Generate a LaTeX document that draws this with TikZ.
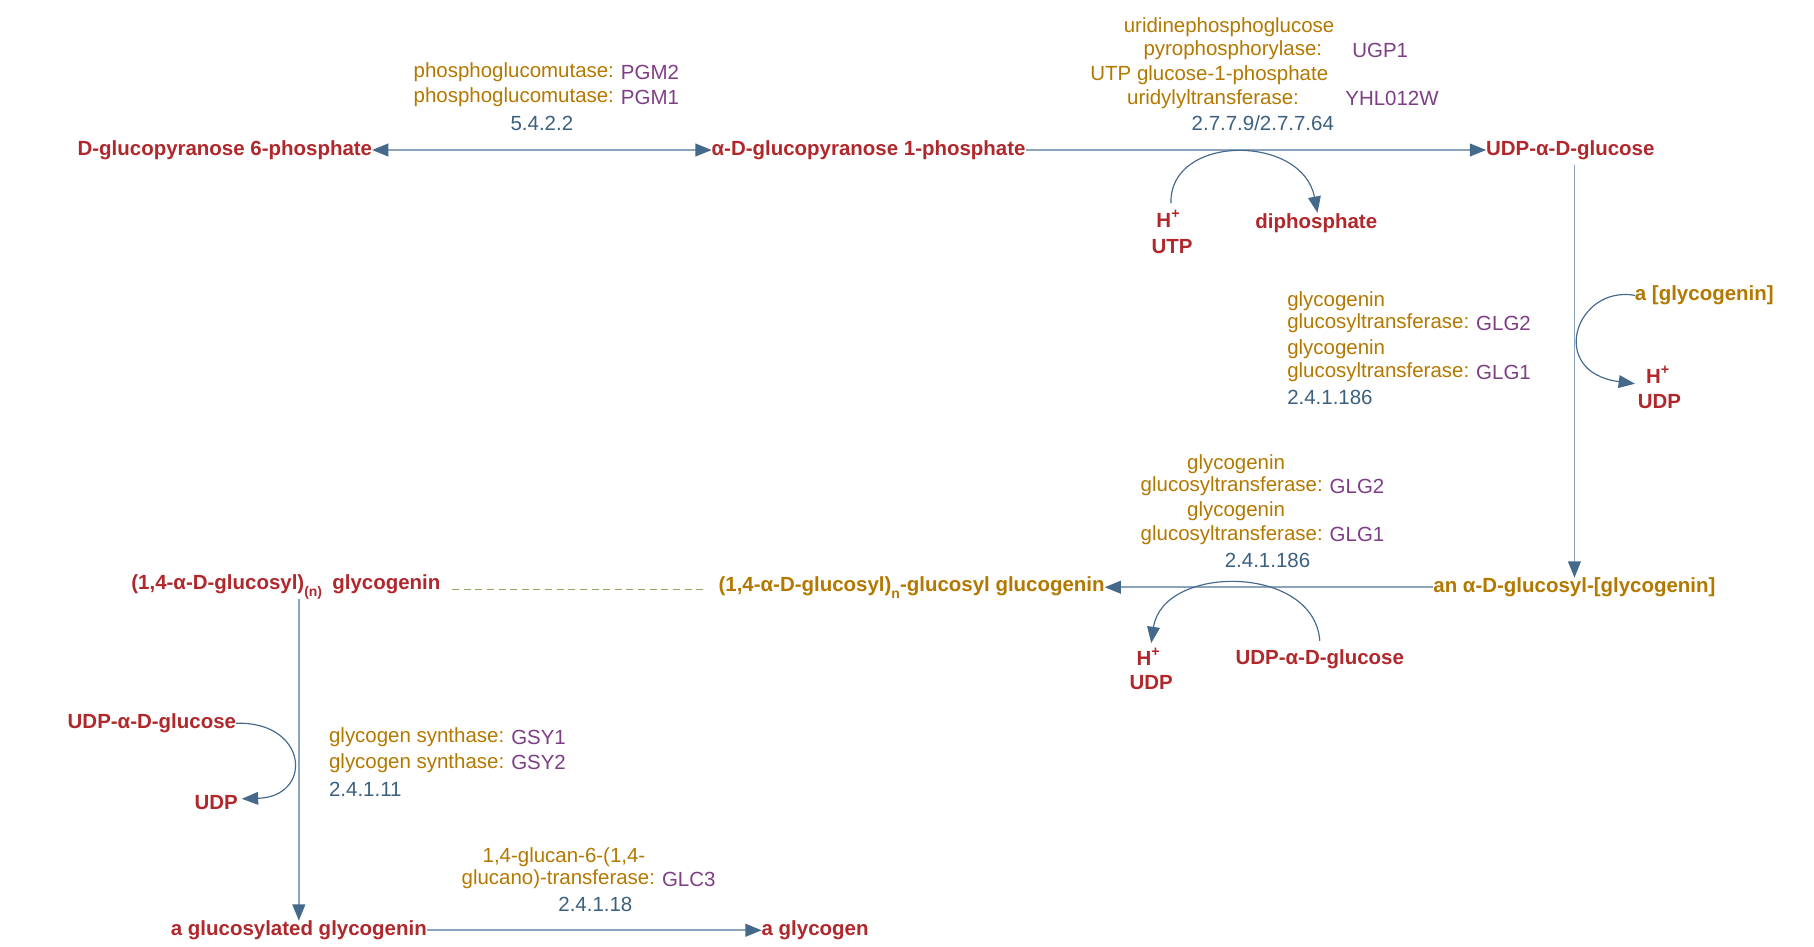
\documentclass[tikz,border=0pt]{standalone}
\usepackage{fontspec}
\setmainfont{Liberation Sans}
\usetikzlibrary{arrows.meta}
\definecolor{met}{HTML}{B0282C}
\definecolor{enz}{HTML}{B37800}
\definecolor{gene}{HTML}{7E3E85}
\definecolor{ec}{HTML}{3B6080}
\definecolor{arr}{HTML}{45698A}
\definecolor{ln}{HTML}{8CA5BD}
\definecolor{dashcol}{HTML}{8FA860}
\newcommand{\subx}[1]{\raisebox{-3pt}{\fontsize{6}{7}\selectfont #1}}
\begin{document}
\begin{tikzpicture}[x=0.5pt,y=-0.5pt,
  every node/.style={inner sep=0pt,outer sep=0pt,font=\fontsize{8.8}{10}\selectfont},
  met/.style={text=met,font=\fontsize{8.8}{10}\selectfont\bfseries},
  omet/.style={text=enz,font=\fontsize{8.8}{10}\selectfont\bfseries},
  enz/.style={text=enz},
  gene/.style={text=gene},
  ec/.style={text=ec},
  tp/.tip={Triangle[length=7pt,width=5.5pt,color=arr]},
  main/.style={draw=ln,line width=0.7pt,-tp},
  side/.style={draw=arr,line width=0.5pt,-tp}]
\useasboundingbox (0,0) rectangle (1560,813.6);
% row 1
\node[met,anchor=east] (g6p) at (320,129) {D-glucopyranose 6-phosphate};
\node[met,anchor=west] (g1p) at (612,129) {α-D-glucopyranose 1-phosphate};
\node[met,anchor=west] (udpg) at (1278,129) {UDP-α-D-glucose};
\draw[main,tp-tp] (g6p.east) -- (g1p.west);
\draw[main] (g1p.east) -- (udpg.west);
\node[enz,anchor=east] (p2) at (528,62) {phosphoglucomutase:};
\node[gene,anchor=west] (p2g) at ([xshift=3pt]p2.east) {PGM2};
\node[enz,anchor=east] (p1) at (528,84) {phosphoglucomutase:};
\node[gene,anchor=west] (p1g) at ([xshift=3pt]p1.east) {PGM1};
\node[ec] (ec1) at (466,106) {5.4.2.2};
\node[enz] (u1) at (1057,23) {uridinephosphoglucose};
\node[enz,anchor=east] (u2) at (1137,43) {pyrophosphorylase:};
\node[gene,anchor=west] (u2g) at (1163,43) {UGP1};
\node[enz] (u3) at (1040,65) {UTP glucose-1-phosphate};
\node[enz,anchor=east] (u4) at (1117,85) {uridylyltransferase:};
\node[gene,anchor=west] (u4g) at (1157,85) {YHL012W};
\node[ec] (ec2) at (1086,106) {2.7.7.9/2.7.7.64};
\node[met] (hp1) at (1005,188) {H\textsuperscript{+}};
\node[met] (utp) at (1008,212) {UTP};
\node[met] (dip) at (1132,192) {diphosphate};
\coordinate (a1s) at (1007,175);
\coordinate (a1e) at (1133,183);
\draw[side] (a1s) .. controls (1005,115) and (1120,115) .. (a1e);
% vertical right
\node[omet] (agg) at (1354,505) {an α-D-glucosyl-[glycogenin]};
\coordinate (vt) at (1354,142);
\draw[main] (vt) -- (agg.north);
\node[omet,anchor=west] (gg) at (1406,254) {a [glycogenin]};
\node[met] (hp2) at (1426,322) {H\textsuperscript{+}};
\node[met] (udp2) at (1427,345) {UDP};
\coordinate (a2e) at (1406,330);
\draw[side] (gg.west) .. controls (1355,245) and (1330,320) .. (a2e);
\node[enz,anchor=west] (r1) at (1107,259) {glycogenin};
\node[enz,anchor=west] (r2) at (1107,278) {glucosyltransferase:};
\node[gene,anchor=west] (r2g) at ([xshift=3pt]r2.east) {GLG2};
\node[enz,anchor=west] (r3) at (1107,300) {glycogenin};
\node[enz,anchor=west] (r4) at (1107,320) {glucosyltransferase:};
\node[gene,anchor=west] (r4g) at ([xshift=3pt]r4.east) {GLG1};
\node[ec,anchor=west] (ec3) at (1107,342) {2.4.1.186};
% row 2
\node[omet,anchor=east] (gcg) at (950,505) {(1,4-α-D-glucosyl)\subx{n}-glucosyl glucogenin};
\node[met,anchor=west] (glyn) at (113,505) {(1,4-α-D-glucosyl)\subx{(n)}\enspace glycogenin};
\draw[main] (agg.west) -- (gcg.east);
\draw[draw=dashcol,line width=0.6pt,dash pattern=on 3pt off 2pt] ([xshift=5pt,yshift=-1pt]glyn.east) -- ([xshift=-5pt,yshift=-1pt]gcg.west);
\node[enz] (m1) at (1063,399) {glycogenin};
\node[enz,anchor=west] (m2) at (981,418) {glucosyltransferase:};
\node[gene,anchor=west] (m2g) at ([xshift=3pt]m2.east) {GLG2};
\node[enz] (m3) at (1063,440) {glycogenin};
\node[enz,anchor=west] (m4) at (981,460) {glucosyltransferase:};
\node[gene,anchor=west] (m4g) at ([xshift=3pt]m4.east) {GLG1};
\node[ec] (ec4) at (1090,482) {2.4.1.186};
\node[met] (udpg2) at (1135,567) {UDP-α-D-glucose};
\node[met] (hp3) at (988,565) {H\textsuperscript{+}};
\node[met] (udp3) at (990,587) {UDP};
\coordinate (a3s) at (1135,551);
\coordinate (a3e) at (990,553);
\draw[side] (a3s) .. controls (1130,485) and (1000,485) .. (a3e);
% vertical left
\node[met] (agl) at (257,800) {a glucosylated glycogenin};
\coordinate (vtop) at (257,515);
\draw[main] (vtop) -- (agl.north);
\node[met,anchor=east] (udpg3) at (203,622) {UDP-α-D-glucose};
\node[met] (udp4) at (186,690) {UDP};
\coordinate (a4e) at (208,687);
\draw[side] (udpg3.east) .. controls (265,620) and (270,685) .. (a4e);
\node[enz,anchor=west] (s1) at (283,634) {glycogen synthase:};
\node[gene,anchor=west] (s1g) at ([xshift=3pt]s1.east) {GSY1};
\node[enz,anchor=west] (s2) at (283,656) {glycogen synthase:};
\node[gene,anchor=west] (s2g) at ([xshift=3pt]s2.east) {GSY2};
\node[ec,anchor=west] (ec5) at (283,679) {2.4.1.11};
% bottom
\node[met,anchor=west] (agly) at (655,800) {a glycogen};
\draw[main] (agl.east) -- (agly.west);
\node[enz] (b1) at (485,737) {1,4-glucan-6-(1,4-};
\node[enz,anchor=west] (b2) at (397,756) {glucano)-transferase:};
\node[gene,anchor=west] (b2g) at ([xshift=3pt]b2.east) {GLC3};
\node[ec] (ec6) at (512,778) {2.4.1.18};
\end{tikzpicture}
\end{document}
